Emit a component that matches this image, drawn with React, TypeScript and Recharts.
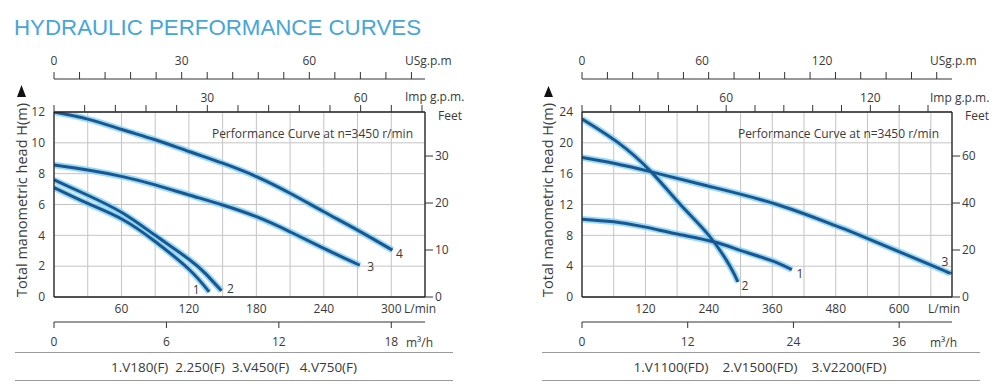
import { CartesianGrid, Line, LineChart, XAxis, YAxis } from "recharts";

// flow (L/min) vs head (m)
const v180 = [
  { q: 0, h: 7.1 }, { q: 30, h: 6.07 }, { q: 61, h: 5.03 }, { q: 90, h: 3.6 },
  { q: 120, h: 1.8 }, { q: 138, h: 0.33 },
];
const v250 = [
  { q: 0, h: 7.6 }, { q: 30, h: 6.6 }, { q: 61, h: 5.45 }, { q: 90, h: 4.0 },
  { q: 120, h: 2.45 }, { q: 135, h: 1.5 }, { q: 149, h: 0.4 },
];
const v450 = [
  { q: 0, h: 8.57 }, { q: 30, h: 8.24 }, { q: 61, h: 7.81 }, { q: 90, h: 7.27 },
  { q: 120, h: 6.62 }, { q: 150, h: 5.97 }, { q: 180, h: 5.21 }, { q: 210, h: 4.23 },
  { q: 240, h: 3.15 }, { q: 272, h: 2.06 },
];
const v750 = [
  { q: 0, h: 12 }, { q: 30, h: 11.54 }, { q: 61, h: 10.85 }, { q: 90, h: 10.2 },
  { q: 120, h: 9.44 }, { q: 150, h: 8.68 }, { q: 180, h: 7.81 }, { q: 210, h: 6.73 },
  { q: 240, h: 5.53 }, { q: 270, h: 4.34 }, { q: 301, h: 3.04 },
];
const v1100 = [
  { q: 0, h: 10.1 }, { q: 60, h: 9.75 }, { q: 118, h: 9.1 }, { q: 178, h: 8.2 },
  { q: 249, h: 7.16 }, { q: 298, h: 6.08 }, { q: 356, h: 4.78 }, { q: 397, h: 3.56 },
];
const v1500 = [
  { q: 0, h: 23.1 }, { q: 69, h: 20 }, { q: 130, h: 16.3 }, { q: 186, h: 12 },
  { q: 240, h: 8 }, { q: 280, h: 4 }, { q: 295, h: 1.95 },
];
const v2200 = [
  { q: 0, h: 18.1 }, { q: 60, h: 17.35 }, { q: 129, h: 16.27 }, { q: 238, h: 14.4 },
  { q: 369, h: 12 }, { q: 478, h: 9.3 }, { q: 526, h: 8 }, { q: 665, h: 4 }, { q: 700, h: 2.95 },
];

// left panel axes
const lGrid = [0, 30, 60, 90, 120, 150, 180, 210, 240, 270, 300, 330];
const lFlowLabels = [60, 120, 180, 240, 300];
const lHead = [0, 2, 4, 6, 8, 10, 12];
const lFeet = [0, 10, 20, 30];
const lM3 = [0, 6, 12, 18];
const lImp = [0, 6, 12, 18, 24, 30, 36, 42, 48, 54, 60, 66, 72];
const lImpLabels = [30, 60];
const lUs = [0, 6, 12, 18, 24, 30, 36, 42, 48, 54, 60, 66, 72, 78, 84];
const lUsLabels = [0, 30, 60];

// right panel axes
const rGrid = [0, 60, 120, 180, 240, 300, 360, 420, 480, 540, 600, 660];
const rFlowLabels = [120, 240, 360, 480, 600];
const rHead = [0, 4, 8, 12, 16, 20, 24];
const rFeet = [0, 20, 40, 60];
const rM3 = [0, 12, 24, 36];
const rImp = [0, 12, 24, 36, 48, 60, 72, 84, 96, 108, 120, 132, 144];
const rImpLabels = [60, 120];
const rUs = [0, 12.7, 25.3, 38, 50.7, 63.3, 76, 88.7, 101.3, 114, 126.7, 139.3, 152, 164.7, 177.3];
const rUsLabels = [0, 60, 120];

const DARK = "#1b5690";
const GLOW = "#86d3f3";
const INK = "#3a3a3a";
const FONT = "'Open Sans', 'Noto Sans', sans-serif";

const topTick = (marks: number[], labels: number[], lift: number) => (p: any) => {
  const v = p.payload.value;
  return (
    <g>
      {marks.includes(v) && <line x1={p.x} x2={p.x} y1={p.y} y2={p.y - 7} stroke="#333" strokeWidth={1} />}
      {labels.includes(v) && (
        <text x={p.x} y={p.y - lift} textAnchor="middle" fontSize={12} fill={INK} fontFamily={FONT}>
          {v}
        </text>
      )}
    </g>
  );
};

const endLabel = (text: string, last: number, dx: number, dy: number) => (p: any) =>
  p.index === last ? (
    <text x={p.x + dx} y={p.y + dy} fontSize={12} fill={INK} fontFamily={FONT} textAnchor="middle" dominantBaseline="middle">
      {text}
    </text>
  ) : null;

type Curve = { id: string; data: { q: number; h: number }[]; dx: number; dy: number };

function Panel(props: {
  curves: Curve[]; qMax: number; grid: number[]; flowLabels: number[]; head: number[];
  feet: number[]; ftMax: number; m3: number[]; imp: number[]; impLabels: number[];
  us: number[]; usLabels: number[]; yWidth: number; rWidth: number;
}) {
  const p = props;
  const hMax = p.head[p.head.length - 1];
  const usAll = Array.from(new Set([...p.us, ...p.usLabels])).sort((a, b) => a - b);
  const tick = { fontSize: 12, fill: INK, fontFamily: FONT };
  return (
    <LineChart width={500} height={388} margin={{ top: 46, right: 0, bottom: 26, left: 0 }}>
      <XAxis xAxisId="a_q" type="number" dataKey="q" orientation="bottom" domain={[0, p.qMax]} ticks={p.grid}
        allowDataOverflow interval={0} height={25} axisLine={{ stroke: "#222", strokeWidth: 1.3 }} tickLine={false}
        tickSize={0} tickMargin={7} tick={tick}
        tickFormatter={(v: number) => (p.flowLabels.includes(v) ? String(v) : "")} />
      <XAxis xAxisId="b_m3" type="number" dataKey="q" orientation="bottom" domain={[0, p.qMax * 0.06]} ticks={p.m3}
        interval={0} allowDataOverflow height={40} axisLine={{ stroke: "#333" }} tickLine={{ stroke: "#333" }}
        tickSize={6} tickMargin={9} tick={tick} />
      <XAxis xAxisId="c_imp" type="number" dataKey="q" orientation="top" domain={[0, p.qMax / 4.546]} ticks={p.imp}
        interval={0} allowDataOverflow height={33} axisLine={{ stroke: "#222", strokeWidth: 1.3 }} tickLine={false}
        tickSize={0} tickMargin={0} tick={topTick(p.imp, p.impLabels, 10)} />
      <XAxis xAxisId="d_us" type="number" dataKey="q" orientation="top" domain={[0, p.qMax / 3.785]} ticks={usAll}
        interval={0} allowDataOverflow height={33} axisLine={{ stroke: "#333" }} tickLine={false} tickSize={0}
        tickMargin={0} tick={topTick(p.us, p.usLabels, 14)} />
      <YAxis yAxisId="a_h" type="number" domain={[0, hMax]} ticks={p.head} interval={0} width={p.yWidth}
        allowDataOverflow axisLine={{ stroke: "#222", strokeWidth: 1.3 }} tickLine={false} tickSize={0}
        tickMargin={9} tick={tick} />
      <YAxis yAxisId="b_ft" type="number" orientation="right" domain={[0, p.ftMax]} ticks={p.feet} interval={0}
        allowDataOverflow width={p.rWidth} axisLine={{ stroke: "#222", strokeWidth: 1.3 }}
        tickLine={{ stroke: "#333" }} tickSize={8} tickMargin={2} tick={tick} />
      <CartesianGrid xAxisId="a_q" yAxisId="a_h" stroke="#c4c4c4" strokeWidth={1} />
      {p.curves.map((c) => (
        <Line key={c.id + "g"} xAxisId="a_q" yAxisId="a_h" data={c.data} dataKey="h" type="natural" stroke={GLOW}
          strokeWidth={6.5} strokeOpacity={0.85} dot={false} activeDot={false} isAnimationActive={false} />
      ))}
      {p.curves.map((c) => (
        <Line key={c.id} xAxisId="a_q" yAxisId="a_h" data={c.data} dataKey="h" type="natural" stroke={DARK}
          strokeWidth={3} dot={false} activeDot={false} isAnimationActive={false}
          label={endLabel(c.id, c.data.length - 1, c.dx, c.dy)} />
      ))}
    </LineChart>
  );
}

const leftCurves: Curve[] = [
  { id: "1", data: v180, dx: -13, dy: -1 },
  { id: "2", data: v250, dx: 9, dy: -1 },
  { id: "3", data: v450, dx: 11, dy: 3 },
  { id: "4", data: v750, dx: 7, dy: 5 },
];
const rightCurves: Curve[] = [
  { id: "1", data: v1100, dx: 8, dy: 5 },
  { id: "2", data: v1500, dx: 7, dy: 5 },
  { id: "3", data: v2200, dx: -7, dy: -11 },
];

const t = { fontFamily: FONT, fontSize: 12, fill: INK };

export default function App() {
  return (
    <div style={{ position: "absolute", left: 0, top: 0, width: 1001, height: 388, background: "#fff", overflow: "hidden" }}>
      <div style={{ position: "absolute", left: 0, top: 0 }}>
        <Panel curves={leftCurves} qMax={330} grid={lGrid} flowLabels={lFlowLabels} head={lHead} feet={lFeet}
          ftMax={12 * 3.2808} m3={lM3} imp={lImp} impLabels={lImpLabels} us={lUs} usLabels={lUsLabels}
          yWidth={54} rWidth={75} />
      </div>
      <div style={{ position: "absolute", left: 500, top: 0 }}>
        <Panel curves={rightCurves} qMax={700} grid={rGrid} flowLabels={rFlowLabels} head={rHead} feet={rFeet}
          ftMax={24 * 3.2808} m3={rM3} imp={rImp} impLabels={rImpLabels} us={rUs} usLabels={rUsLabels}
          yWidth={82} rWidth={48} />
      </div>
      <svg width={1001} height={388} style={{ position: "absolute", left: 0, top: 0, pointerEvents: "none" }}>
        <text x={14} y={35} fontFamily="'Liberation Sans', Arial, sans-serif" fontSize={22.5} fill="#46a6d8"
          textLength={407} lengthAdjust="spacingAndGlyphs">HYDRAULIC PERFORMANCE CURVES</text>

        {/* left panel texts */}
        <text {...t} x={405} y={64.5}>USg.p.m</text>
        <text {...t} x={405} y={101}>Imp g.p.m.</text>
        <text {...t} x={438} y={120}>Feet</text>
        <text {...t} x={404} y={312.5}>L/min</text>
        <text {...t} x={406} y={346.5}>m³/h</text>
        <text {...t} x={413} y={137.5} textAnchor="end">Performance Curve at n=3450 r/min</text>
        <text {...t} fontSize={14.5} transform="translate(27,200) rotate(-90)" textAnchor="middle">Total manometric head H(m)</text>
        <path d="M17,97 L26,97 L21.5,85 Z" fill="#111" />
        <line x1={15} x2={453} y1={352.5} y2={352.5} stroke="#9a9a9a" strokeWidth={1} />
        <line x1={15} x2={453} y1={380.5} y2={380.5} stroke="#9a9a9a" strokeWidth={1} />
        <text {...t} fontSize={13.5} x={234} y={371.5} textAnchor="middle" style={{ whiteSpace: "pre" }}>
          {"1.V180(F)  2.250(F)  3.V450(F)   4.V750(F)"}
        </text>

        {/* right panel texts */}
        <text {...t} x={930} y={64.5}>USg.p.m</text>
        <text {...t} x={930} y={102}>Imp g.p.m.</text>
        <text {...t} x={965} y={120}>Feet</text>
        <text {...t} x={928} y={312.5}>L/min</text>
        <text {...t} x={930} y={346.5}>m³/h</text>
        <text {...t} x={939} y={137.5} textAnchor="end">Performance Curve at n=3450 r/min</text>
        <text {...t} fontSize={14.5} transform="translate(553,200) rotate(-90)" textAnchor="middle">Total manometric head H(m)</text>
        <path d="M544,97 L553,97 L548.5,86 Z" fill="#111" />
        <line x1={542} x2={980} y1={352.5} y2={352.5} stroke="#9a9a9a" strokeWidth={1} />
        <line x1={542} x2={980} y1={380.5} y2={380.5} stroke="#9a9a9a" strokeWidth={1} />
        <text {...t} fontSize={13.5} x={760} y={371.5} textAnchor="middle" style={{ whiteSpace: "pre" }}>
          {"1.V1100(FD)    2.V1500(FD)    3.V2200(FD)"}
        </text>
      </svg>
    </div>
  );
}
